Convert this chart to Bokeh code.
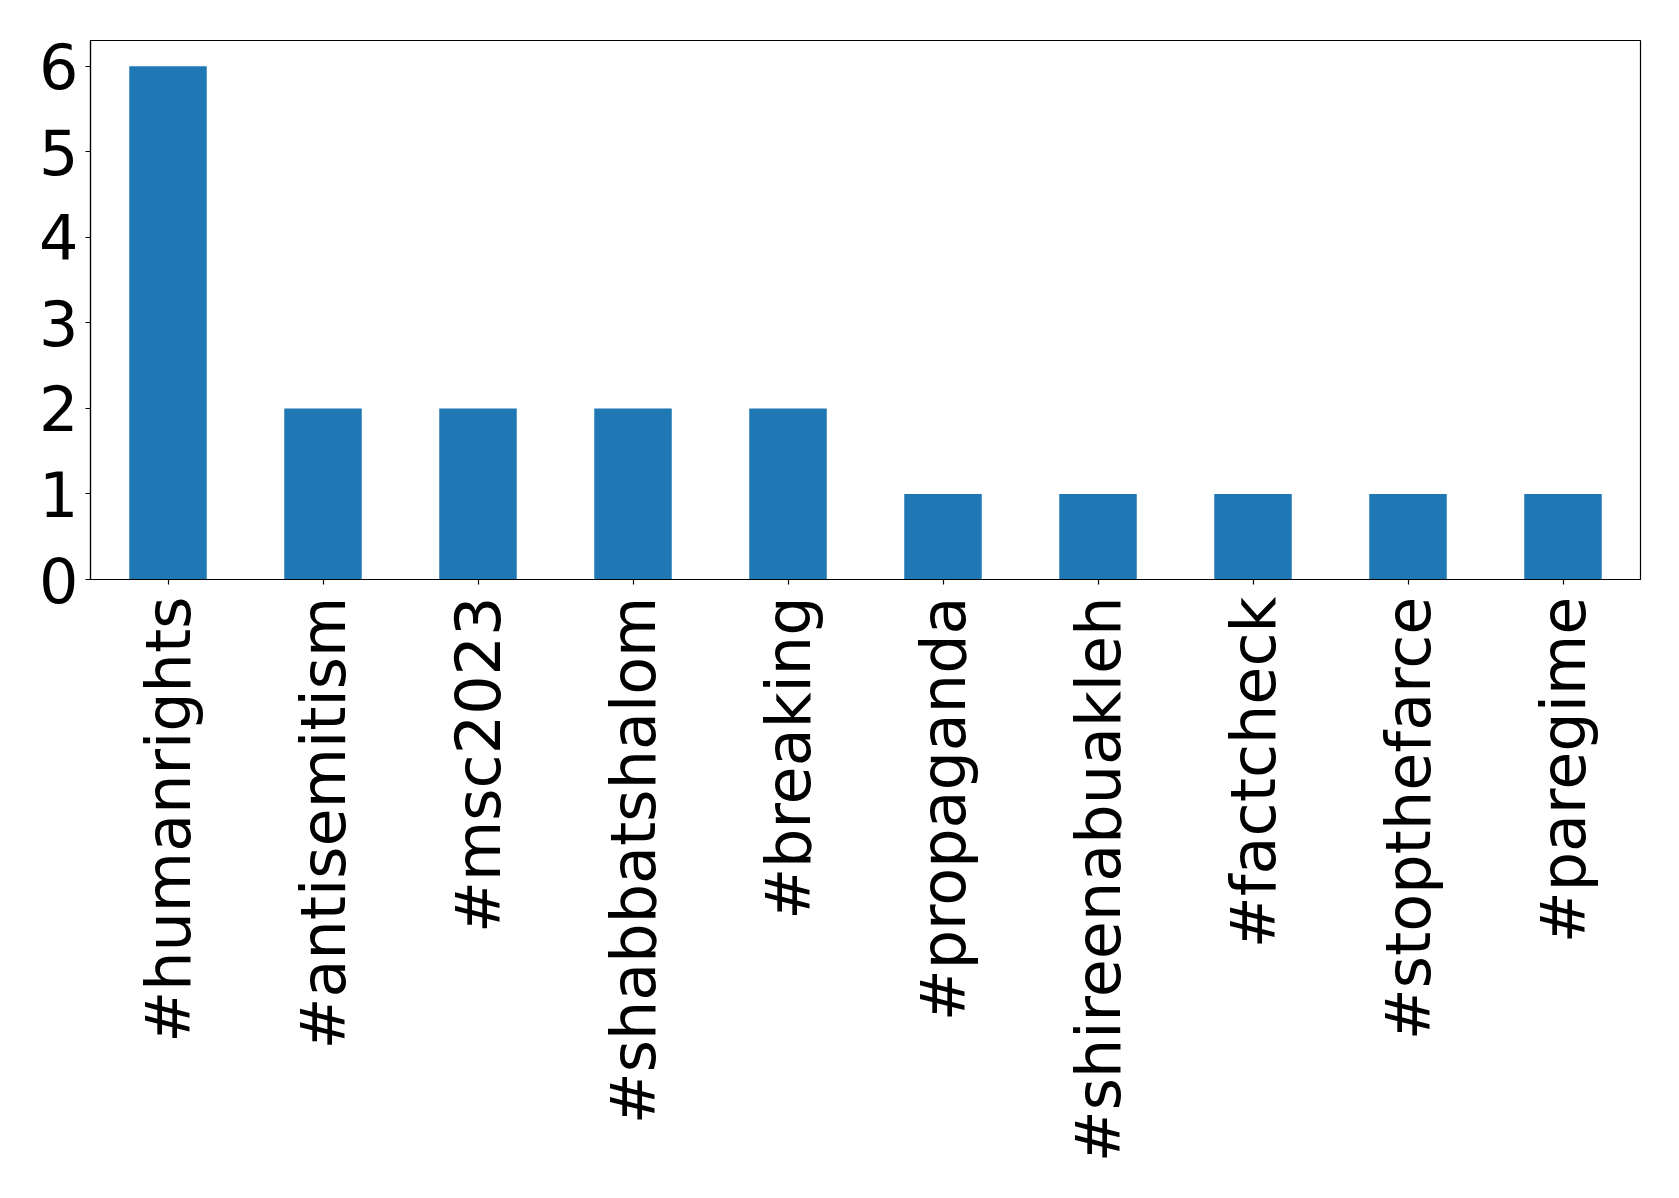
from bokeh.plotting import figure
from bokeh.models import FactorRange, Range1d, FixedTicker, ColumnDataSource
from bokeh.embed import file_html
from bokeh.resources import INLINE
import math

hashtags = ["#humanrights", "#antisemitism", "#msc2023", "#shabbatshalom", "#breaking",
            "#propaganda", "#shireenabuakleh", "#factcheck", "#stopthefarce", "#paregime"]
counts = [6, 2, 2, 2, 2, 1, 1, 1, 1, 1]
y_ticks = [0, 1, 2, 3, 4, 5, 6]

src = ColumnDataSource(data=dict(tag=hashtags, count=counts))

p = figure(x_range=FactorRange(*hashtags), y_range=Range1d(0, 6.3),
           width=1663, height=1182, output_backend="svg", toolbar_location=None,
           min_border_left=90, min_border_right=23, min_border_top=40, min_border_bottom=603)
p.vbar(x="tag", top="count", width=0.5, source=src, color="#1f77b4", line_color=None)

p.xgrid.visible = False
p.ygrid.visible = False
p.outline_line_color = "black"
p.outline_line_width = 1.2
p.background_fill_color = "white"
p.border_fill_color = "white"

font = "DejaVu Sans"
for ax in (p.xaxis[0], p.yaxis[0]):
    ax.axis_line_color = "black"
    ax.axis_line_width = 1.2
    ax.major_tick_line_color = "black"
    ax.major_tick_line_width = 1.2
    ax.major_tick_in = 0
    ax.major_tick_out = 5
    ax.minor_tick_line_color = None
    ax.major_label_text_font = font
    ax.major_label_text_font_size = "62px"
    ax.major_label_text_color = "black"

p.yaxis[0].ticker = FixedTicker(ticks=y_ticks)
p.yaxis[0].major_label_standoff = 7
p.xaxis[0].major_label_orientation = math.pi / 2
p.xaxis[0].major_label_standoff = 12

open("out.html", "w").write(file_html(p, INLINE))
